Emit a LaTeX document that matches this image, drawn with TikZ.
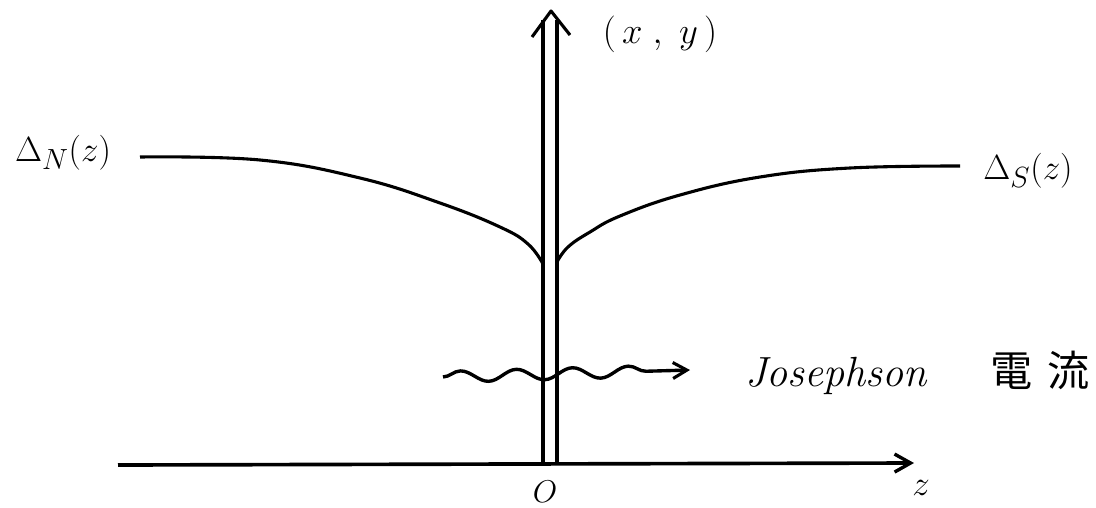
\documentclass[tikz,border=0pt]{standalone}
\usepackage{graphicx}
\usepackage{fontspec}
\newfontfamily\cjk{Noto Sans CJK JP}
\usetikzlibrary{arrows.meta,decorations.pathmorphing}
\newcommand\handsize[2][1]{\scalebox{#1}{#2}}
\tikzset{
  every picture/.style={line width=2.4pt},
  axis/.style={line width=2.6pt, -{Straight Barb[length=4mm, width=4.5mm, line width=2.4pt]}},
  wall/.style={line width=2.4pt},
  gap/.style={line width=2.2pt, line join=round},
  wave/.style={decorate, decoration={snake, amplitude=1.4mm, segment length=14mm, post length=9mm},
    -{Straight Barb[length=3.5mm, width=4mm, line width=2.2pt]}},
  lbl/.style={inner sep=1pt, font=\Huge},
}
\begin{document}
\begin{tikzpicture}[x=0.025cm, y=-0.025cm]
\useasboundingbox (0,0) rectangle (1096,507);
% z axis
\coordinate (zl) at (118,465);
\coordinate (zr) at (914,463);
\draw[axis] (zl) -- (zr);
\node[lbl] (zlab) at (921,488) {$z$};
\node[lbl] (o) at (545,492) {\handsize[0.9]{$O$}};
% barrier, two walls with one head
\coordinate (wlb) at (543,465); \coordinate (wlt) at (543,20);
\coordinate (wrb) at (557,465); \coordinate (wrt) at (557,20);
\draw[wall] (wlb) -- (wlt);
\draw[wall] (wrb) -- (wrt);
\coordinate (tip) at (551,11);
\coordinate (hl) at (532,37); \coordinate (hr) at (570,35);
\draw[gap] (hl) -- (tip) -- (hr);
\node[lbl] (xy) at (660,34) {\handsize[1.05]{$(\,x\;,\;y\,)$}};
% gap functions
\draw[gap] plot[smooth, tension=0.7] coordinates {(140,157) (260,160) (360,178) (440,203) (500,227) (528,244) (543,264)};
\draw[gap] plot[smooth, tension=0.7] coordinates {(557,262) (568,247) (590,232) (620,216) (680,195) (760,177) (850,168) (960,166)};
\node[lbl] (dn) at (63,153) {$\Delta_N(z)$};
\node[lbl] (ds) at (1028,171) {$\Delta_S(z)$};
% current
\coordinate (cs) at (443,377);
\coordinate (ce) at (690,370);
\draw[wave] (cs) -- (ce);
\node[lbl, anchor=west, font=\fontsize{30}{34}\selectfont\itshape] (jc) at (742,373) {Josephson\hspace{1.5em}{\cjk 電\hspace{0.35em}流}};
\end{tikzpicture}
\end{document}
